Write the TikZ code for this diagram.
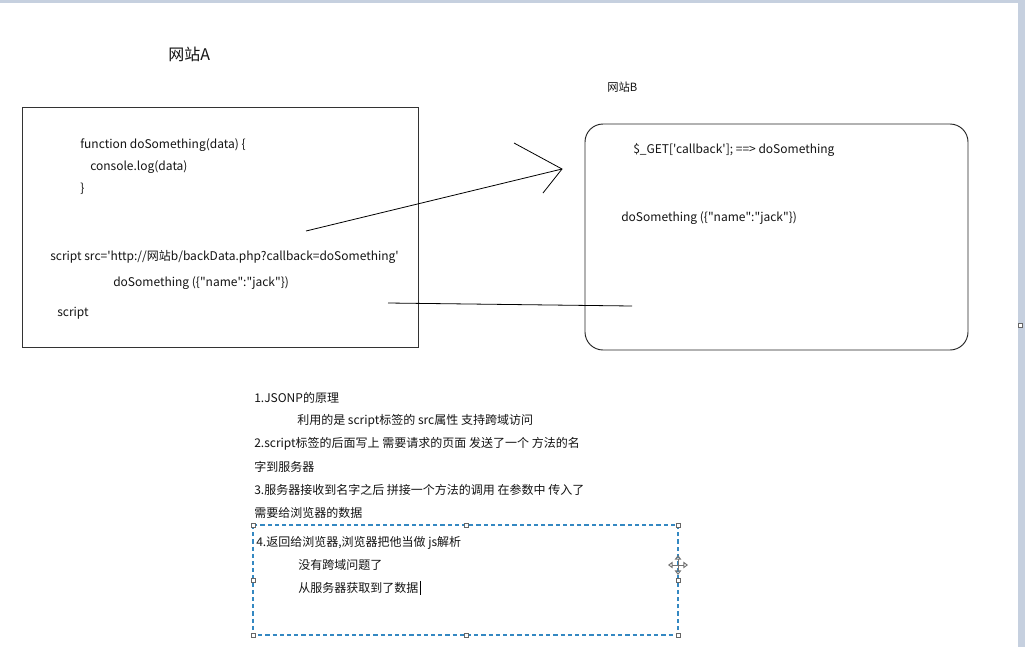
\documentclass[tikz,border=0pt]{standalone}
\usepackage{fontspec}
\newfontfamily\cjkfont{Noto Sans CJK SC}
\usetikzlibrary{arrows.meta}

\definecolor{selblue}{RGB}{52,136,194}
\definecolor{barblue}{RGB}{198,208,223}
\tikzset{
  txt/.style={anchor=west, inner sep=0.75pt, yshift=-1.3pt, text=black!92, font=\cjkfont\fontsize{9}{11}\selectfont},
  handle/.style={draw=black!60, fill=white, line width=0.45pt, minimum size=3.2pt, inner sep=0pt},
}

\begin{document}
\begin{tikzpicture}[x=0.75pt,y=0.75pt,yscale=-1,xscale=1]
\useasboundingbox (0,0) rectangle (1025,647);

%Background
\fill[white] (0,0) rectangle (1025,647);
\fill[barblue] (0,0) rectangle (1025,2.5);
\fill[barblue] (1018,0) rectangle (1025,647);
\node (edgeHandle) at (1020.5,325) [handle] {};

% Text Node
\draw (167,53) node (siteA) [txt, font=\cjkfont\fontsize{12}{14}\selectfont] {网站A};
% Text Node
\draw (606,85) node (siteB) [txt, font=\cjkfont\fontsize{8.5}{10}\selectfont] {网站B};

%Shape: Rectangle
\draw [line width=0.7pt, draw=black!80] (22,107) rectangle (418,347);
%Rounded Rect
\draw [line width=0.7pt, draw=black!85, rounded corners=13.5pt] (585,124) rectangle (968,350);

% Text Node
\draw (79,143) node (funcDef) [txt] {function doSomething(data) \{};
% Text Node
\draw (89,165) node (consoleLog) [txt] {console.log(data)};
% Text Node
\draw (79,187) node (funcEnd) [txt] {\}};
% Text Node
\draw (49,255) node (scriptSrc) [txt] {script src='http://网站b/backData.php?callback=doSomething'};
% Text Node
\draw (112,281) node (callA) [txt] {doSomething (\{"name":"jack"\})};
% Text Node
\draw (56,311) node (scriptEnd) [txt] {script};

% Text Node
\draw (632,148) node (getCallback) [txt] {\$\_GET['callback']; ==> doSomething};
% Text Node
\draw (620,216) node (callB) [txt] {doSomething (\{"name":"jack"\})};

%Straight Lines
\coordinate (callStart) at (306,231);
\coordinate (callTip) at (562,169);
\coordinate (headUp) at (514,143);
\coordinate (headDown) at (543,193);
\draw [line width=0.6pt] (callStart) -- (callTip);
\draw [line width=0.6pt] (headUp) -- (callTip) -- (headDown);
%Straight Lines
\coordinate (backStart) at (632,306);
\coordinate (backEnd) at (388,303);
\draw [line width=0.6pt] (backStart) -- (backEnd);

% Text Node
\draw (253,396) node (noteOne) [txt] {1.JSONP的原理};
% Text Node
\draw (296,419) node (noteOneA) [txt] {利用的是 script标签的 src属性 支持跨域访问};
% Text Node
\draw (253,442) node (noteTwo) [txt] {2.script标签的后面写上 需要请求的页面 发送了一个 方法的名};
% Text Node
\draw (253,465) node (noteTwoB) [txt] {字到服务器};
% Text Node
\draw (253,488) node (noteThree) [txt] {3.服务器接收到名字之后 拼接一个方法的调用 在参数中 传入了};
% Text Node
\draw (253,511) node (noteThreeB) [txt] {需要给浏览器的数据};
% Text Node
\draw (255,541) node (noteFour) [txt] {4.返回给浏览器,浏览器把他当做 js解析};
% Text Node
\draw (297,563) node (noteFourA) [txt] {没有跨域问题了};
% Text Node
\draw (297,586) node (noteFourB) [txt] {从服务器获取到了数据};
%Text cursor
\draw [line width=0.8pt] ([xshift=0.5pt]noteFourB.north east) -- ([xshift=0.5pt]noteFourB.south east);

%Selection frame
\draw [selblue, line width=0.8pt, dash pattern=on 3.2pt off 2.2pt] (253,525) rectangle (678,635);
\node (selTL) at (253,525) [handle] {};
\node (selTM) at (466,525) [handle] {};
\node (selTR) at (678,525) [handle] {};
\node (selML) at (253,580) [handle] {};
\node (selMR) at (678,580) [handle] {};
\node (selBL) at (253,635) [handle] {};
\node (selBM) at (466,635) [handle] {};
\node (selBR) at (678,635) [handle] {};
%Move cursor
\draw [black!55, line width=0.7pt, {Triangle[open,length=3.5pt,width=5pt]}-{Triangle[open,length=3.5pt,width=5pt]}] (668,565) -- (688,565);
\draw [black!55, line width=0.7pt, {Triangle[open,length=3.5pt,width=5pt]}-{Triangle[open,length=3.5pt,width=5pt]}] (678,555) -- (678,575);

\end{tikzpicture}
\end{document}
